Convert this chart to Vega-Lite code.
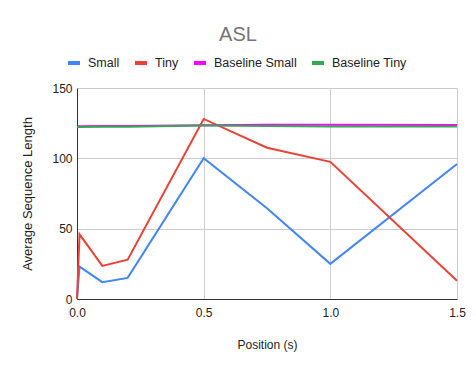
{
  "$schema": "https://vega.github.io/schema/vega-lite/v6.json",
  "width": 380,
  "height": 211,
  "autosize": {"type": "none"},
  "padding": {"left": 77, "top": 88, "right": 19, "bottom": 72},
  "background": "white",
  "config": {
    "font": "Liberation Sans",
    "view": {"stroke": null},
    "axis": {"labelFont": "Liberation Sans", "titleFont": "Liberation Sans", "labelColor": "#222222", "titleColor": "#222222", "labelFontSize": 12, "titleFontSize": 12, "titleFontWeight": "normal", "gridColor": "#cccccc", "domainColor": "#333333", "ticks": false, "labelFlush": false}
  },
  "title": {"text": "ASL", "fontSize": 20, "font": "Liberation Sans", "fontWeight": "normal", "color": "#757575", "anchor": "middle", "dx": -29, "offset": 10},
  "data": {
    "values": [
      {"x": 0, "y": 0, "s": "Small"},
      {"x": 0.01, "y": 23, "s": "Small"},
      {"x": 0.1, "y": 12, "s": "Small"},
      {"x": 0.2, "y": 15, "s": "Small"},
      {"x": 0.5, "y": 100, "s": "Small"},
      {"x": 0.75, "y": 64.5, "s": "Small"},
      {"x": 1.0, "y": 25, "s": "Small"},
      {"x": 1.5, "y": 96, "s": "Small"},
      {"x": 0, "y": 0, "s": "Tiny"},
      {"x": 0.01, "y": 46, "s": "Tiny"},
      {"x": 0.1, "y": 23.5, "s": "Tiny"},
      {"x": 0.2, "y": 28, "s": "Tiny"},
      {"x": 0.5, "y": 128, "s": "Tiny"},
      {"x": 0.75, "y": 107.5, "s": "Tiny"},
      {"x": 1.0, "y": 97.5, "s": "Tiny"},
      {"x": 1.5, "y": 13, "s": "Tiny"},
      {"x": 0, "y": 122.8, "s": "Baseline Small"},
      {"x": 0.01, "y": 122.8, "s": "Baseline Small"},
      {"x": 0.1, "y": 122.9, "s": "Baseline Small"},
      {"x": 0.2, "y": 123.0, "s": "Baseline Small"},
      {"x": 0.5, "y": 123.5, "s": "Baseline Small"},
      {"x": 0.75, "y": 123.8, "s": "Baseline Small"},
      {"x": 1.0, "y": 123.9, "s": "Baseline Small"},
      {"x": 1.5, "y": 123.7, "s": "Baseline Small"},
      {"x": 0, "y": 122.3, "s": "Baseline Tiny"},
      {"x": 0.01, "y": 122.3, "s": "Baseline Tiny"},
      {"x": 0.1, "y": 122.4, "s": "Baseline Tiny"},
      {"x": 0.2, "y": 122.5, "s": "Baseline Tiny"},
      {"x": 0.5, "y": 123.3, "s": "Baseline Tiny"},
      {"x": 0.75, "y": 123.0, "s": "Baseline Tiny"},
      {"x": 1.0, "y": 122.7, "s": "Baseline Tiny"},
      {"x": 1.5, "y": 122.7, "s": "Baseline Tiny"}
    ]
  },
  "mark": {"type": "line", "strokeWidth": 2},
  "encoding": {
    "x": {"field": "x", "type": "quantitative", "scale": {"domain": [0, 1.5], "nice": false}, "axis": {"values": [0, 0.5, 1, 1.5], "format": ".1f", "title": "Position (s)", "titlePadding": 21, "labelPadding": 8, "grid": true}},
    "y": {"field": "y", "type": "quantitative", "scale": {"domain": [0, 150], "nice": false}, "axis": {"values": [0, 50, 100, 150], "title": "Average Sequence Length", "titleFontSize": 13, "titlePadding": 17, "labelPadding": 5, "domain": true}},
    "color": {"field": "s", "type": "nominal", "sort": ["Small", "Tiny", "Baseline Small", "Baseline Tiny"],
      "scale": {"domain": ["Small", "Tiny", "Baseline Small", "Baseline Tiny"], "range": ["#4285F4", "#EA4335", "#FF00FF", "#34A853"]},
      "legend": {"title": null, "orient": "none", "direction": "horizontal", "legendX": -11, "legendY": -33, "symbolType": "stroke", "symbolSize": 144, "symbolStrokeWidth": 4, "labelFontSize": 12.5, "labelColor": "#222222", "labelFont": "Liberation Sans", "labelOffset": 6, "columnPadding": 7}},
    "order": {"field": "x", "type": "quantitative"}
  }
}
